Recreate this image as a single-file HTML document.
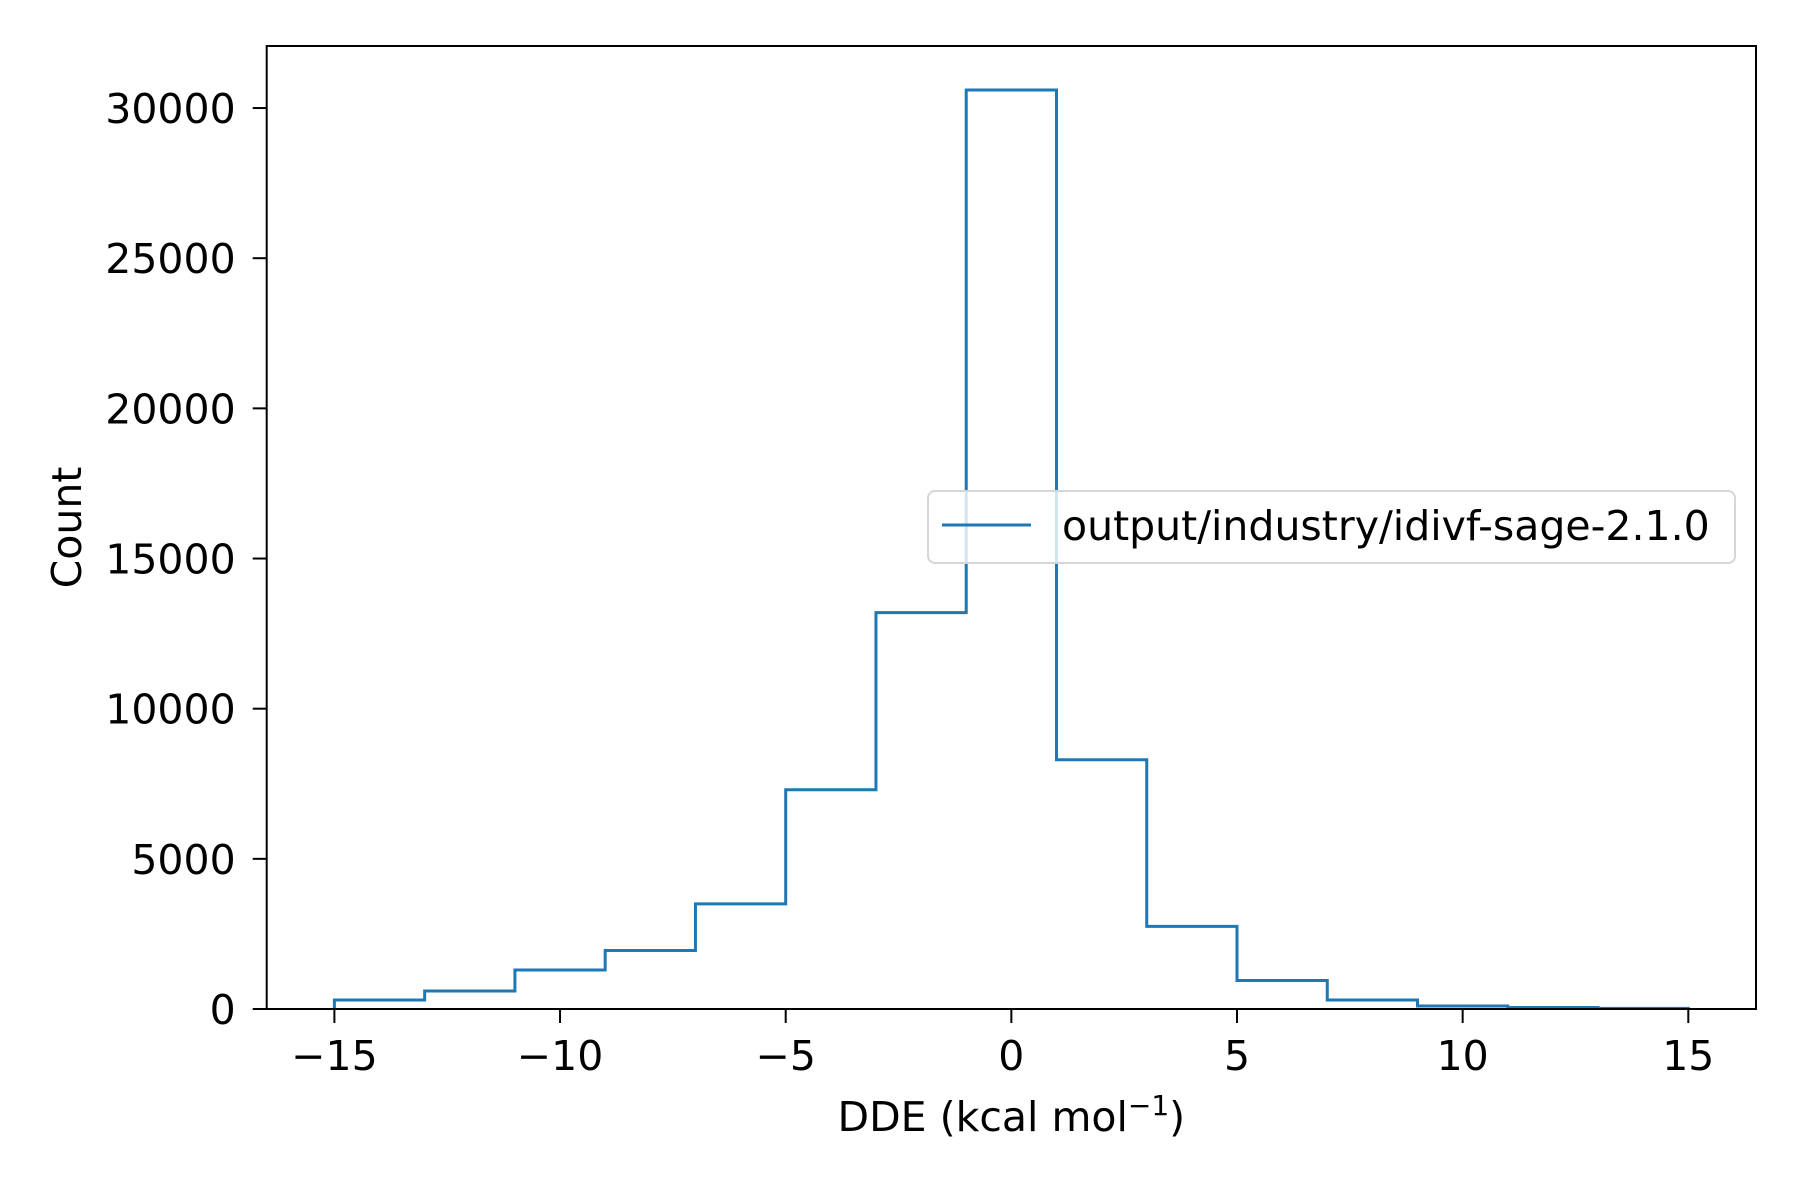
<!DOCTYPE html>
<html><head><meta charset="utf-8"><style>body{margin:0;background:#fff}svg{display:block}text{font-family:"DejaVu Sans","Liberation Sans",sans-serif;fill:#000}</style></head>
<body>
<svg id="chart" width="1800" height="1200" viewBox="0 0 1800 1200" xmlns="http://www.w3.org/2000/svg">
<rect width="1800" height="1200" fill="#fff"/>
<g id="plot"></g>
</svg>
<script>
const binEdges = [-15,-13,-11,-9,-7,-5,-3,-1,1,3,5,7,9,11,13,15];
const counts = [300,600,1300,1950,3500,7300,13200,30600,8300,2750,950,300,100,50,20];
const xTicks = [-15,-10,-5,0,5,10,15];
const yTicks = [0,5000,10000,15000,20000,25000,30000];
const seriesLabel = "output/industry/idivf-sage-2.1.0";

const L=266.7,R=1756,T=46,B=1009;
const xmin=-16.5,xmax=16.5,ymin=0,ymax=32066;
const xs=v=>L+(v-xmin)/(xmax-xmin)*(R-L);
const ys=v=>B-(v-ymin)/(ymax-ymin)*(B-T);
const NS="http://www.w3.org/2000/svg";
const g=document.getElementById('plot');
function mk(tag,attrs,parent){const e=document.createElementNS(NS,tag);for(const k in attrs)e.setAttribute(k,attrs[k]);(parent||g).appendChild(e);return e;}

let d=`M${xs(binEdges[0])},${ys(0)}`;
counts.forEach((c,i)=>{d+=` L${xs(binEdges[i])},${ys(c)} L${xs(binEdges[i+1])},${ys(c)}`;});
d+=` L${xs(binEdges[binEdges.length-1])},${ys(0)}`;
const p=mk('path',{d:d,fill:'none',stroke:'#1f77b4','stroke-width':3,'stroke-linejoin':'miter'});



const fr=mk('rect',{x:L,y:T,width:R-L,height:B-T,fill:'none',stroke:'#000','stroke-width':2});



xTicks.forEach(v=>{
  const x=xs(v);
  const t=mk('line',{x1:x,x2:x,y1:B,y2:B+14,stroke:'#000','stroke-width':2});
  
  
  const lb=mk('text',{x:x,y:B+61,'text-anchor':'middle','font-size':41});
  lb.textContent=(v<0?'\u2212'+Math.abs(v):String(v));
  
  
});
yTicks.forEach(v=>{
  const y=ys(v);
  const t=mk('line',{x1:L-14,x2:L,y1:y,y2:y,stroke:'#000','stroke-width':2});
  
  
  const lb=mk('text',{x:L-31,y:y+15,'text-anchor':'end','font-size':41});
  lb.textContent=String(v);
  
  
});

const xl=mk('text',{x:xs(0),y:1131,'text-anchor':'middle','font-size':41});
xl.innerHTML='DDE (kcal mol<tspan dy="-16" font-size="28">\u22121</tspan><tspan dy="16">)</tspan>';


const yl=mk('text',{x:0,y:0,'text-anchor':'middle','font-size':41,transform:`translate(81,${(T+B)/2}) rotate(-90)`});
yl.textContent='Count';



const lg=mk('g',{});


mk('rect',{x:928,y:491,width:807,height:72,rx:7,fill:'#fff','fill-opacity':0.8,stroke:'#d6d6d6','stroke-width':2},lg);
const ll=mk('line',{x1:942,x2:1031,y1:525,y2:525,stroke:'#1f77b4','stroke-width':3},lg);


const lt=mk('text',{x:1062,y:540,'font-size':41},lg);
lt.textContent=seriesLabel;


</script>
</body></html>
